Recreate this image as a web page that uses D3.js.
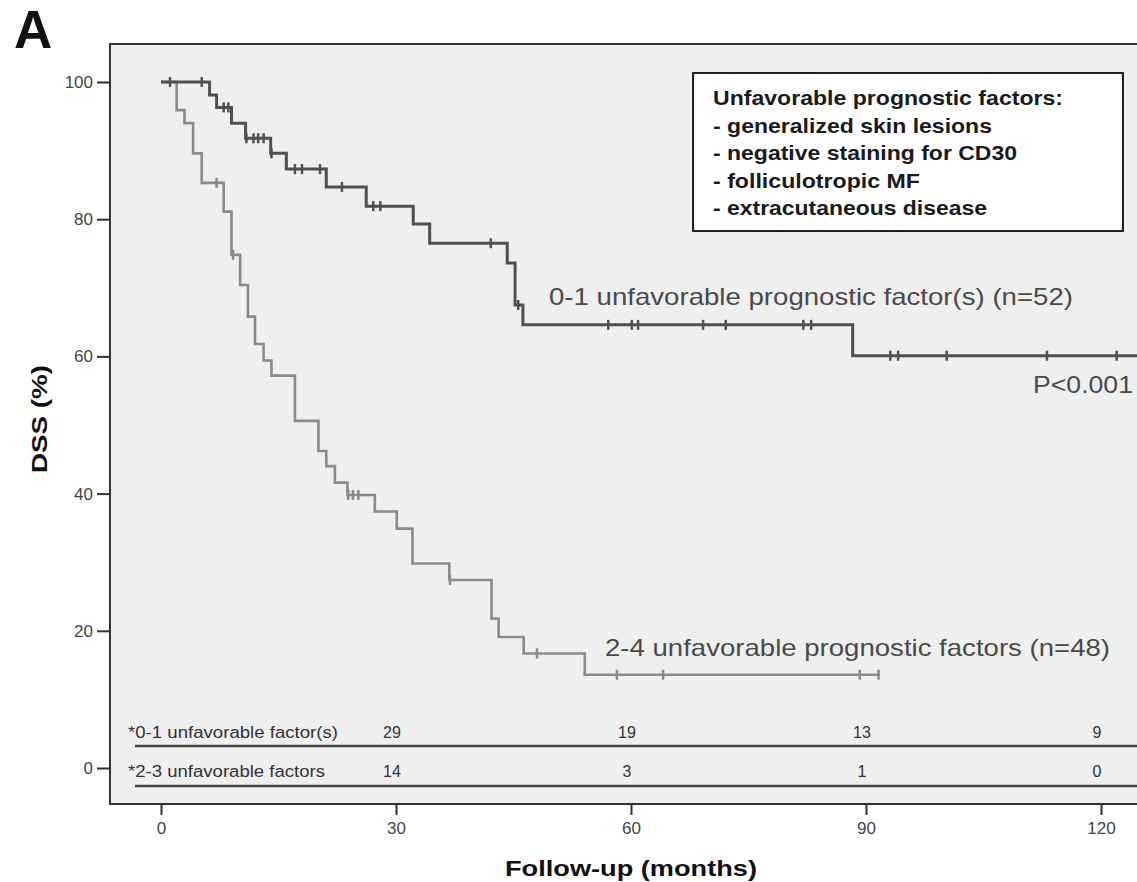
<!DOCTYPE html>
<html>
<head>
<meta charset="utf-8">
<script src="https://cdn.jsdelivr.net/npm/d3@7"></script>
<style>
  html, body { margin: 0; padding: 0; background: #fff; }
  svg { display: block; font-family: "Liberation Sans", Arial, sans-serif; }
</style>
</head>
<body>
<div id="chart"></div>
<script>
// Kaplan-Meier DSS curves (months, % surviving)
const lowSteps = [[0, 100], [6.2, 98.1], [7.1, 96.3], [9.0, 94.0], [10.8, 91.8], [14.0, 89.6],
  [16.0, 87.3], [21.1, 84.7], [26.2, 81.9], [32.2, 79.3], [34.3, 76.5], [44.2, 73.6],
  [45.2, 67.5], [46.2, 64.6], [88.3, 60.1]];
const lowEnd = 126;
const lowCensor = [1.15, 5.2, 8.0, 8.6, 10.9, 11.8, 12.4, 13.1, 14.1, 17.1, 18.0, 20.3, 23.1,
  27.1, 28.0, 42.1, 45.6, 57.1, 60.1, 60.9, 69.2, 72.1, 82.0, 83.0, 93.1, 94.1, 100.3, 113.1, 122.0];

const highSteps = [[0, 100], [2.0, 95.9], [3.0, 94.0], [4.1, 89.6], [5.2, 85.3], [8.0, 81.1],
  [9.0, 74.8], [10.1, 70.4], [11.1, 65.8], [12.0, 61.8], [13.1, 59.4], [14.1, 57.2],
  [17.1, 50.6], [20.1, 46.2], [21.1, 44.0], [22.2, 41.6], [23.8, 39.8], [27.3, 37.4],
  [30.1, 34.9], [32.1, 29.8], [36.8, 27.4], [42.2, 21.8], [43.1, 19.1], [46.3, 16.7],
  [54.1, 13.6]];
const highEnd = 91.8;
const highCensor = [7.1, 9.2, 23.9, 24.5, 25.2, 36.9, 48.0, 58.2, 64.1, 89.2, 91.6];

// numbers at risk
const riskTimes = [30, 60, 90, 120];
const riskLow = [29, 19, 13, 9];
const riskHigh = [14, 3, 1, 0];

const xTicks = [0, 30, 60, 90, 120];
const yTicks = [0, 20, 40, 60, 80, 100];

const boxLines = ['Unfavorable prognostic factors:', '- generalized skin lesions',
  '- negative staining for CD30', '- folliculotropic MF', '- extracutaneous disease'];
const boxWidths = [350, 279, 304, 207, 274];

const W = 1137, H = 882;
const svg = d3.select('#chart').append('svg').attr('width', W).attr('height', H);

const x = d3.scaleLinear().domain([0, 120]).range([161, 1101]);
const y = d3.scaleLinear().domain([0, 100]).range([768, 82]);

// plot frame (right edge runs off the picture)
svg.append('rect')
  .attr('x', 110).attr('y', 44).attr('width', 1060).attr('height', 760)
  .attr('fill', '#efefef').attr('stroke', '#333').attr('stroke-width', 2);

// panel letter
svg.append('text').attr('x', 14).attr('y', 48)
  .attr('font-size', 53).attr('font-weight', 'bold').attr('fill', '#111').text('A');

// axes
const yAxis = svg.append('g').attr('transform', 'translate(110,0)')
  .call(d3.axisLeft(y).tickValues(yTicks).tickSize(13).tickPadding(4));
const xAxis = svg.append('g').attr('transform', 'translate(0,805)')
  .call(d3.axisBottom(x).tickValues(xTicks).tickSize(10).tickPadding(7));
[yAxis, xAxis].forEach(g => {
  g.select('.domain').remove();
  g.selectAll('line').attr('stroke', '#333').attr('stroke-width', 2);
  g.selectAll('text').attr('font-size', 17).attr('fill', '#444')
    .attr('font-family', '"Liberation Sans", Arial, sans-serif');
});

// axis titles
svg.append('text').attr('x', 631).attr('y', 876).attr('text-anchor', 'middle')
  .attr('font-size', 22).attr('font-weight', 'bold').attr('fill', '#111')
  .attr('textLength', 252).attr('lengthAdjust', 'spacingAndGlyphs')
  .text('Follow-up (months)');
svg.append('text').attr('transform', 'translate(47,419) rotate(-90)').attr('text-anchor', 'middle')
  .attr('font-size', 22).attr('font-weight', 'bold').attr('fill', '#111')
  .attr('textLength', 108).attr('lengthAdjust', 'spacingAndGlyphs')
  .text('DSS (%)');

// survival curves
function valueAt(steps, t) {
  let v = steps[0][1];
  for (const s of steps) if (s[0] <= t) v = s[1];
  return v;
}
const line = d3.line().x(d => x(d[0])).y(d => y(d[1])).curve(d3.curveStepAfter);

function drawCurve(steps, end, censor, color, width) {
  const pts = steps.concat([[end, steps[steps.length - 1][1]]]);
  svg.append('path').datum(pts).attr('d', line)
    .attr('fill', 'none').attr('stroke', color).attr('stroke-width', width);
  svg.append('g').selectAll('line').data(censor).join('line')
    .attr('x1', d => x(d)).attr('x2', d => x(d))
    .attr('y1', d => y(valueAt(steps, d)) - 5).attr('y2', d => y(valueAt(steps, d)) + 5)
    .attr('stroke', color).attr('stroke-width', 2.5);
}
drawCurve(highSteps, highEnd, highCensor, '#8a8a8a', 2.6);
drawCurve(lowSteps, lowEnd, lowCensor, '#505050', 3);

// curve labels
svg.append('text').attr('x', 549).attr('y', 305).attr('font-size', 24).attr('fill', '#4a4a4a')
  .attr('textLength', 524).attr('lengthAdjust', 'spacingAndGlyphs')
  .text('0-1 unfavorable prognostic factor(s) (n=52)');
svg.append('text').attr('x', 605).attr('y', 656).attr('font-size', 24).attr('fill', '#4a4a4a')
  .attr('textLength', 505).attr('lengthAdjust', 'spacingAndGlyphs')
  .text('2-4 unfavorable prognostic factors (n=48)');
svg.append('text').attr('x', 1033).attr('y', 393).attr('font-size', 24).attr('fill', '#4a4a4a')
  .attr('textLength', 100).attr('lengthAdjust', 'spacingAndGlyphs')
  .text('P<0.001');

// factor box
svg.append('rect').attr('x', 693).attr('y', 73).attr('width', 430).attr('height', 158)
  .attr('fill', '#fff').attr('stroke', '#222').attr('stroke-width', 2);
svg.append('g').selectAll('text').data(boxLines).join('text')
  .attr('x', 713).attr('y', (d, i) => 105 + i * 27.5)
  .attr('font-size', 21).attr('font-weight', 'bold').attr('fill', '#1a1a1a')
  .attr('textLength', (d, i) => boxWidths[i]).attr('lengthAdjust', 'spacingAndGlyphs')
  .text(d => d);

// numbers-at-risk table
const rows = [
  { label: '*0-1 unfavorable factor(s)', width: 210, values: riskLow, base: 738, rule: 746 },
  { label: '*2-3 unfavorable factors', width: 197, values: riskHigh, base: 777, rule: 786 }
];
rows.forEach(r => {
  svg.append('text').attr('x', 128).attr('y', r.base).attr('font-size', 16).attr('fill', '#333')
    .attr('textLength', r.width).attr('lengthAdjust', 'spacingAndGlyphs').text(r.label);
  svg.append('g').selectAll('text').data(r.values).join('text')
    .attr('x', (d, i) => x(riskTimes[i]) - 4).attr('y', r.base)
    .attr('text-anchor', 'middle').attr('font-size', 16).attr('fill', '#333')
    .text(d => d);
  svg.append('line').attr('x1', 135).attr('x2', 1140).attr('y1', r.rule).attr('y2', r.rule)
    .attr('stroke', '#444').attr('stroke-width', 2.5);
});
</script>
</body>
</html>
